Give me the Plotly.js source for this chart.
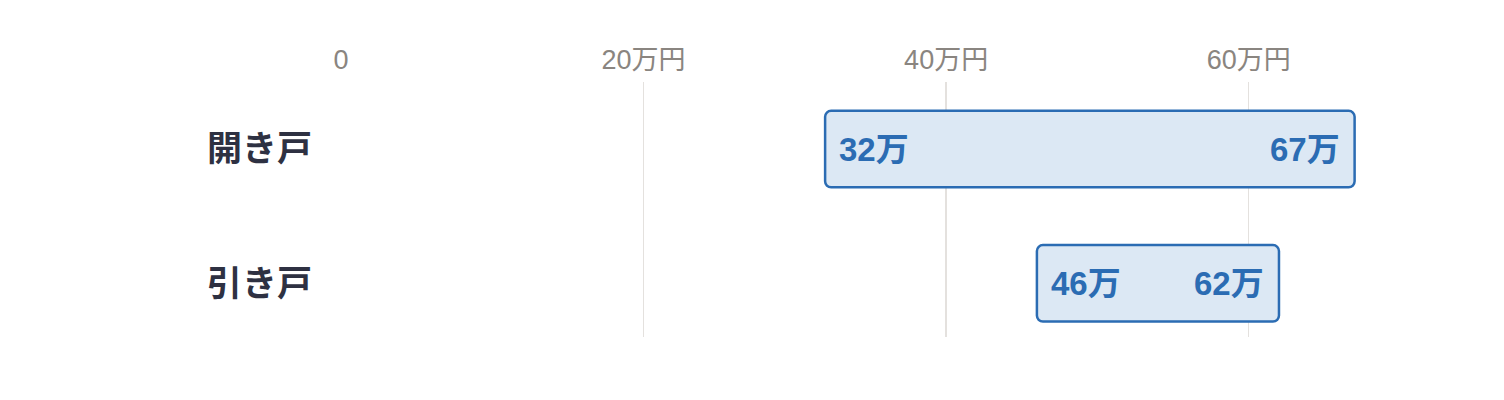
<!DOCTYPE html>
<html>
<head>
<meta charset="utf-8">
<script src="https://cdn.plot.ly/plotly-3.0.1.min.js"></script>
<style>
  html, body { margin: 0; padding: 0; background: #fff; }
  #rangePlot { width: 1504px; height: 400px; }
</style>
</head>
<body>
<div id="rangePlot"></div>
<script>
// data (万円)
var doorTypes = ["開き戸", "引き戸"];
var priceMin = [32, 46];
var priceMax = [67, 62];
var tickVals = [0, 20, 40, 60];
var tickText = ["0", "20万円", "40万円", "60万円"];

var fontFamily = '"Liberation Sans", "Noto Sans CJK JP", sans-serif';
var blue = "#2b6cb3";

var cb_rangePlot = function () {
  let trace = {
    type: "bar",
    orientation: "h",
    y: doorTypes,
    base: priceMin,
    x: priceMax.map(function (v, i) { return v - priceMin[i]; }),
    width: 0.57,
    marker: {
      color: "#dce8f4",
      line: { color: blue, width: 2.5 },
      cornerradius: 6,
    },
    hoverinfo: "skip",
  };

  // labels at both ends of each bar
  let annotations = [];
  doorTypes.forEach(function (d, i) {
    annotations.push({
      x: priceMin[i], y: d, xref: "x", yref: "y",
      text: "<b>" + priceMin[i] + "万</b>",
      showarrow: false, xanchor: "left", xshift: 12,
      font: { family: fontFamily, size: 33, color: blue },
    });
    annotations.push({
      x: priceMax[i], y: d, xref: "x", yref: "y",
      text: "<b>" + priceMax[i] + "万</b>",
      showarrow: false, xanchor: "right", xshift: -13,
      font: { family: fontFamily, size: 33, color: blue },
    });
  });

  let layout = {
    width: 1504,
    height: 400,
    margin: { l: 341, r: 104, t: 82, b: 63, pad: 0 },
    paper_bgcolor: "#ffffff",
    plot_bgcolor: "#ffffff",
    showlegend: false,
    font: { family: fontFamily },
    xaxis: {
      side: "top",
      range: [0, 70],
      tickvals: tickVals,
      ticktext: tickText,
      showgrid: true,
      gridcolor: "#e4e1de",
      gridwidth: 1.5,
      zeroline: false,
      showline: false,
      ticks: "",
      ticklabelstandoff: 7,
      tickfont: { size: 27, color: "#8a8580", family: fontFamily },
      fixedrange: true,
    },
    yaxis: {
      range: [1.4, -0.5],
      showgrid: false,
      zeroline: false,
      showline: false,
      ticks: "",
      ticklabelstandoff: 28,
      tickfont: { size: 35, color: "#2e3142", family: fontFamily, weight: "bold" },
      fixedrange: true,
    },
    annotations: annotations,
  };

  let config = { displayModeBar: false, staticPlot: true };

  Plotly.newPlot("rangePlot", [trace], layout, config);
};

cb_rangePlot();
</script>
</body>
</html>
